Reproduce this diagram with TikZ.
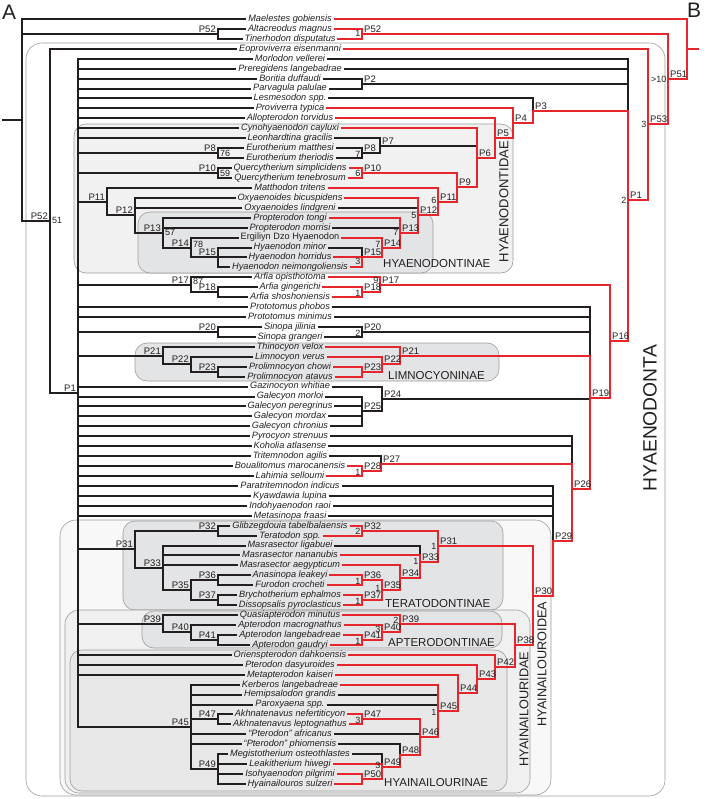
\documentclass[tikz,border=0pt]{standalone}
\usepackage{fontspec}
\setmainfont{Liberation Sans}
\usetikzlibrary{calc}
\definecolor{ink}{HTML}{231F20}
\definecolor{rd}{HTML}{E5262D}
\definecolor{edge}{HTML}{9D9D9D}
\definecolor{fA}{HTML}{F1F1F2}
\definecolor{fB}{HTML}{E3E4E5}
\definecolor{fC}{HTML}{F8F8F8}
\definecolor{fD}{HTML}{F0F0F0}
\definecolor{fE}{HTML}{E8E8E9}
\begin{document}
\begin{tikzpicture}[x=1pt,y=-1pt,
  clade/.style={draw=edge,line width=0.6pt,rounded corners=12pt},
  br/.style={line width=2pt,line cap=rect},
  taxon/.style={font=\fontsize{9.2}{10}\selectfont\itshape,text=ink,inner xsep=3pt,inner ysep=0pt,outer sep=0pt,text height=6.8pt,text depth=2pt},
  plab/.style={font=\fontsize{9.5}{10}\selectfont,text=ink,inner sep=0pt},
  sup/.style={font=\fontsize{9}{10}\selectfont,text=ink,inner sep=0pt},
  cname/.style={font=\fontsize{11.5}{12}\selectfont,text=ink,inner sep=0pt}]
\useasboundingbox (0,0) rectangle (704,799);
% ---------------- clade boxes
\draw[clade,rounded corners=16pt] (26,43) rectangle (665,796);
\filldraw[clade,fill=fA] (74,124) rectangle (513,273);
\filldraw[clade,fill=fB] (138,212) rectangle (433,273);
\filldraw[clade,fill=fB] (135,343) rectangle (499,381);
\filldraw[clade,fill=fC,rounded corners=16pt] (60,520) rectangle (551,795);
\filldraw[clade,fill=fB] (123,521) rectangle (503,610);
\filldraw[clade,fill=fD,rounded corners=14pt] (65,610) rectangle (530,793);
\filldraw[clade,fill=fB] (142,611) rectangle (502,648);
\filldraw[clade,fill=fE] (70,650) rectangle (507,791);
% clade names
\node[cname,anchor=base west] (cn1) at (383,268) {HYAENODONTINAE};
\node[cname,anchor=base west] (cn2) at (388,379) {LIMNOCYONINAE};
\node[cname,anchor=base west] (cn3) at (385,607) {TERATODONTINAE};
\node[cname,anchor=base west] (cn4) at (388,646) {APTERODONTINAE};
\node[cname,anchor=base west] (cn5) at (384,786) {HYAINAILOURINAE};
\node[cname,font=\fontsize{13}{14}\selectfont,rotate=90] (cn6) at (504,201.5) {HYAENODONTIDAE};
\node[cname,font=\fontsize{12.7}{14}\selectfont,rotate=90] (cn7) at (524,709) {HYAINAILOURIDAE};
\node[cname,font=\fontsize{12.7}{14}\selectfont,rotate=90] (cn8) at (542,664) {HYAINAILOUROIDEA};
\node[cname,font=\fontsize{19.3}{20}\selectfont,rotate=90] (cn9) at (650,418) {HYAENODONTA};
\node[cname,font=\fontsize{21}{22}\selectfont,anchor=base west] (lA) at (2,20) {A};
\node[cname,font=\fontsize{21}{22}\selectfont,anchor=base west] (lB) at (687,18) {B};
% ---------------- trees (row coordinates)
\begin{scope}[y=-9.935pt,yshift=-19pt]
\foreach \i/\nm in {0/Maelestes gobiensis,1/Altacreodus magnus,2/Tinerhodon disputatus,
 3/Eoproviverra eisenmanni,4/Morlodon vellerei,5/Preregidens langebadrae,6/Boritia duffaudi,
 7/Parvagula palulae,8/Lesmesodon spp.,9/Proviverra typica,10/Allopterodon torvidus,
 11/Cynohyaenodon cayluxi,12/Leonhardtina gracilis,13/Eurotherium matthesi,14/Eurotherium theriodis,
 15/Quercytherium simplicidens,16/Quercytherium tenebrosum,17/Matthodon tritens,
 18/Oxyaenoides bicuspidens,19/Oxyaenoides lindgreni,20/Propterodon tongi,21/Propterodon morrisi,
 22/{\upshape Ergiliyn Dzo Hyaenodon},23/Hyaenodon minor,24/Hyaenodon horridus,
 25/Hyaenodon neimongoliensis,26/Arfia opisthotoma,27/Arfia gingerichi,28/Arfia shoshoniensis,
 29/Prototomus phobos,30/Prototomus minimus,31/Sinopa jilinia,32/Sinopa grangeri,
 33/Thinocyon velox,34/Limnocyon verus,35/Prolimnocyon chowi,36/Prolimnocyon atavus,
 37/Gazinocyon whitiae,38/Galecyon morloi,39/Galecyon peregrinus,40/Galecyon mordax,
 41/Galecyon chronius,42/Pyrocyon strenuus,43/Koholia atlasense,44/Tritemnodon agilis,
 45/Boualitomus marocanensis,46/Lahimia selloumi,47/Paratritemnodon indicus,48/Kyawdawia lupina,
 49/Indohyaenodon raoi,50/Metasinopa fraasi,51/Glibzegdouia tabelbalaensis,52/Teratodon spp.,
 53/Masrasector ligabuei,54/Masrasector nananubis,55/Masrasector aegypticum,56/Anasinopa leakeyi,
 57/Furodon crocheti,58/Brychotherium ephalmos,59/Dissopsalis pyroclasticus,
 60/Quasiapterodon minutus,61/Apterodon macrognathus,62/Apterodon langebadreae,63/Apterodon gaudryi,
 64/Orienspterodon dahkoensis,65/Pterodon dasyuroides,66/Metapterodon kaiseri,
 67/Kerberos langebadreae,68/Hemipsalodon grandis,69/Paroxyaena spp.,
 70/Akhnatenavus nefertiticyon,71/Akhnatenavus leptognathus,72/“Pterodon” africanus,
 73/“Pterodon” phiomensis,74/Megistotherium osteothlastes,75/Leakitherium hiwegi,
 76/Isohyaenodon pilgrimi,77/Hyainailouros sulzeri}
 \node[taxon] (t\i) at (290,\i) {\nm};
% ---- tree A coordinates
\coordinate (aS) at (3,10.155);
\coordinate (aR) at (22,10.155);
\coordinate (aP52b) at (218,1.5);
\coordinate (aP52) at (50,20.31);
\coordinate (aP1) at (78,37.625);
\coordinate (aP8) at (218,13.5);
\coordinate (aP10) at (218,15.5);
\coordinate (aP11) at (107,18.375);
\coordinate (aP12) at (135,19.75);
\coordinate (aP13) at (163,21.5);
\coordinate (aP14) at (191,23);
\coordinate (aP15) at (218,24);
\coordinate (aP17) at (191,26.75);
\coordinate (aP18) at (218,27.5);
\coordinate (aP20) at (218,31.5);
\coordinate (aP21) at (163,33.875);
\coordinate (aP22) at (191,34.75);
\coordinate (aP23) at (218,35.5);
\coordinate (aP31) at (135,53.375);
\coordinate (aP32) at (218,51.5);
\coordinate (aP33) at (163,55.25);
\coordinate (aP35) at (191,57.5);
\coordinate (aP36) at (218,56.5);
\coordinate (aP37) at (218,58.5);
\coordinate (aP39) at (163,60.875);
\coordinate (aP40) at (191,61.75);
\coordinate (aP41) at (218,62.5);
\coordinate (aP45) at (191,71.25);
\coordinate (aP47) at (218,70.5);
\coordinate (aP49) at (218,75.5);
% ---- tree A lines
\draw[br,ink] (aS) -- (aR);
\foreach \n/\p in {aP52b/aR,aP52/aR,aP1/aP52,aP8/aP1,aP10/aP1,aP11/aP1,aP12/aP11,aP13/aP12,
 aP14/aP13,aP15/aP14,aP17/aP1,aP18/aP17,aP20/aP1,aP21/aP1,aP22/aP21,aP23/aP22,aP31/aP1,
 aP32/aP31,aP33/aP31,aP35/aP33,aP36/aP35,aP37/aP35,aP39/aP1,aP40/aP39,aP41/aP40,aP45/aP1,
 aP47/aP45,aP49/aP45}
 \draw[br,ink] (\n) -- (\n -| \p);
\foreach \n/\a/\b in {aR/t0/aP52,aP52b/t1/t2,aP52/t3/aP1,aP1/t4/aP45,aP8/t13/t14,aP10/t15/t16,
 aP11/t17/aP12,aP12/t18/aP13,aP13/t20/aP14,aP14/t22/aP15,aP15/t23/t25,aP17/t26/aP18,
 aP18/t27/t28,aP20/t31/t32,aP21/t33/aP22,aP22/t34/aP23,aP23/t35/t36,aP31/aP32/aP33,
 aP32/t51/t52,aP33/t53/aP35,aP35/aP36/aP37,aP36/t56/t57,aP37/t58/t59,aP39/t60/aP40,
 aP40/t61/aP41,aP41/t62/t63,aP45/t67/aP49,aP47/t70/t71,aP49/t74/t77}
 \draw[br,ink] (\n |- \a) -- (\n |- \b);
\foreach \i/\p in {0/aR,1/aP52b,2/aP52b,3/aP52,4/aP1,5/aP1,6/aP1,7/aP1,8/aP1,9/aP1,10/aP1,
 11/aP1,12/aP1,13/aP8,14/aP8,15/aP10,16/aP10,17/aP11,18/aP12,19/aP12,20/aP13,21/aP13,22/aP14,
 23/aP15,24/aP15,25/aP15,26/aP17,27/aP18,28/aP18,29/aP1,30/aP1,31/aP20,32/aP20,33/aP21,
 34/aP22,35/aP23,36/aP23,37/aP1,38/aP1,39/aP1,40/aP1,41/aP1,42/aP1,43/aP1,44/aP1,45/aP1,
 46/aP1,47/aP1,48/aP1,49/aP1,50/aP1,51/aP32,52/aP32,53/aP33,54/aP33,55/aP33,56/aP36,57/aP36,
 58/aP37,59/aP37,60/aP39,61/aP40,62/aP41,63/aP41,64/aP1,65/aP1,66/aP1,67/aP45,68/aP45,
 69/aP45,70/aP47,71/aP47,72/aP45,73/aP45,74/aP49,75/aP49,76/aP49,77/aP49}
 \draw[br,ink] (\p |- t\i.west) -- (t\i.west);
% ---- tree A labels
\foreach \n/\l [count=\k] in {aP52b/P52,aP52/P52,aP1/P1,aP8/P8,aP10/P10,aP11/P11,aP12/P12,
 aP13/P13,aP14/P14,aP15/P15,aP17/P17,aP18/P18,aP20/P20,aP21/P21,aP22/P22,aP23/P23,aP31/P31,
 aP32/P32,aP33/P33,aP35/P35,aP36/P36,aP37/P37,aP39/P39,aP40/P40,aP41/P41,aP45/P45,aP47/P47,
 aP49/P49}
 \node[plab,anchor=base east,xshift=-2pt,yshift=1.5pt] (la\k) at (\n) {\l};
\foreach \n/\v/\s [count=\k] in {aP52/51/0,aP8/76/0,aP10/59/0,aP13/57/0,aP14/78/3,aP17/87/3}
 \node[sup,anchor=west,xshift=2pt,yshift=\s pt] (sa\k) at (\n) {\v};
% ---- tree B coordinates
\coordinate (bS) at (698,3.0275);
\coordinate (bR) at (687,3.0275);
\coordinate (bP51) at (668,6.055);
\coordinate (bP52) at (362,1.5);
\coordinate (bP53) at (648,10.61);
\coordinate (bP1) at (628,18.22);
\coordinate (bP2) at (362,6.5);
\coordinate (bP3) at (533,9.245);
\coordinate (bP4) at (513,10.49);
\coordinate (bP5) at (495,11.98);
\coordinate (bP6) at (477,13.97);
\coordinate (bP7) at (380,12.75);
\coordinate (bP8) at (362,13.5);
\coordinate (bP9) at (457,16.94);
\coordinate (bP10) at (362,15.5);
\coordinate (bP11) at (438,18.375);
\coordinate (bP12) at (418,19.75);
\coordinate (bP13) at (400,21.5);
\coordinate (bP14) at (382,23);
\coordinate (bP15) at (362,24);
\coordinate (bP16) at (610,32.44);
\coordinate (bP17) at (380,26.75);
\coordinate (bP18) at (362,27.5);
\coordinate (bP19) at (590,38.13);
\coordinate (bP20) at (362,31.5);
\coordinate (bP21) at (400,33.875);
\coordinate (bP22) at (382,34.75);
\coordinate (bP23) at (362,35.5);
\coordinate (bP24) at (382,38.25);
\coordinate (bP25) at (362,39.5);
\coordinate (bP26) at (572,47.26);
\coordinate (bP27) at (381,44.75);
\coordinate (bP28) at (362,45.5);
\coordinate (bP29) at (553,52.53);
\coordinate (bP30) at (533,58.05);
\coordinate (bP31) at (438,53.06);
\coordinate (bP32) at (362,51.5);
\coordinate (bP33) at (420,54.625);
\coordinate (bP34) at (400,56.25);
\coordinate (bP35) at (382,57.5);
\coordinate (bP36) at (362,56.5);
\coordinate (bP37) at (362,58.5);
\coordinate (bP38) at (515,63.04);
\coordinate (bP39) at (400,60.875);
\coordinate (bP40) at (382,61.75);
\coordinate (bP41) at (362,62.5);
\coordinate (bP42) at (495,65.21);
\coordinate (bP43) at (477,66.41);
\coordinate (bP44) at (458,67.83);
\coordinate (bP45) at (438,69.66);
\coordinate (bP46) at (420,72.31);
\coordinate (bP47) at (362,70.5);
\coordinate (bP48) at (400,74.125);
\coordinate (bP49) at (382,75.25);
\coordinate (bP50) at (362,76.5);
% ---- tree B black parts
\foreach \i/\p in {4/bP1,5/bP1,6/bP2,7/bP2,8/bP3,12/bP7,13/bP8,14/bP8,19/bP12,21/bP13,23/bP15,
 29/bP19,30/bP19,31/bP20,32/bP20,37/bP24,38/bP25,39/bP25,40/bP25,41/bP25,42/bP26,43/bP26,
 44/bP27,47/bP29,48/bP29,49/bP29,50/bP29,53/bP33,68/bP45,69/bP45,72/bP46,73/bP48,74/bP49}
 \draw[br,ink] (t\i.east) -- (t\i.east -| \p);
\foreach \n/\p in {bP2/bP1,bP7/bP6,bP8/bP7,bP20/bP19,bP24/bP19,bP25/bP24}
 \draw[br,ink] (\n) -- (\n -| \p);
\foreach \n/\a/\b in {bP1/t4/bP3,bP2/t6/t7,bP3/t8/bP3,bP7/t12/bP8,bP8/t13/t14,bP15/t23/bP15,
 bP19/t29/bP21,bP20/t31/t32,bP24/t37/bP25,bP25/t38/t41,bP26/t42/bP27,bP27/t44/bP27,
 bP29/t47/bP29,bP33/t53/t54,bP48/t73/bP48,bP49/t74/t75}
 \draw[br,ink] (\n |- \a) -- (\n |- \b);
% ---- tree B red parts
\foreach \i/\p in {0/bR,1/bP52,2/bP52,3/bP53,9/bP4,10/bP5,11/bP6,15/bP10,16/bP10,17/bP11,
 18/bP12,20/bP13,22/bP14,24/bP15,25/bP15,26/bP17,27/bP18,28/bP18,33/bP21,34/bP22,35/bP23,
 36/bP23,45/bP28,46/bP28,51/bP32,52/bP32,54/bP33,55/bP34,56/bP36,57/bP36,58/bP37,59/bP37,
 60/bP39,61/bP40,62/bP41,63/bP41,64/bP42,65/bP43,66/bP44,67/bP45,70/bP47,71/bP47,75/bP49,
 76/bP50,77/bP50}
 \draw[br,rd] (t\i.east) -- (t\i.east -| \p);
\draw[br,rd] (bR) -- (bS);
\foreach \n/\p in {bP51/bR,bP52/bP51,bP53/bP51,bP1/bP53,bP3/bP1,bP4/bP3,bP5/bP4,bP6/bP5,
 bP9/bP6,bP10/bP9,bP11/bP9,bP12/bP11,bP13/bP12,bP14/bP13,bP15/bP14,bP16/bP1,bP17/bP16,
 bP18/bP17,bP19/bP16,bP21/bP19,bP22/bP21,bP23/bP22,bP26/bP19,bP27/bP26,bP28/bP27,bP29/bP26,
 bP30/bP29,bP31/bP30,bP32/bP31,bP33/bP31,bP34/bP33,bP35/bP34,bP36/bP35,bP37/bP35,bP38/bP30,
 bP39/bP38,bP40/bP39,bP41/bP40,bP42/bP38,bP43/bP42,bP44/bP43,bP45/bP44,bP46/bP45,bP47/bP46,
 bP48/bP46,bP49/bP48,bP50/bP49}
 \draw[br,rd] (\n) -- (\n -| \p);
\foreach \n/\a/\b in {bR/t0/bP51,bP51/bP52/bP53,bP52/t1/t2,bP53/t3/bP1,bP1/bP3/bP16,
 bP3/bP3/bP4,bP4/t9/bP5,bP5/t10/bP6,bP6/t11/bP9,bP9/bP10/bP11,bP10/t15/t16,bP11/t17/bP12,
 bP12/t18/bP13,bP13/t20/bP14,bP14/t22/bP15,bP15/bP15/t25,bP16/bP17/bP19,bP17/t26/bP18,
 bP18/t27/t28,bP19/bP21/bP26,bP21/t33/bP22,bP22/t34/bP23,bP23/t35/t36,bP26/bP27/bP29,
 bP27/bP27/bP28,bP28/t45/t46,bP29/bP29/bP30,bP30/bP31/bP38,bP31/bP32/bP33,bP32/t51/t52,
 bP33/t54/bP34,bP34/t55/bP35,bP35/bP36/bP37,bP36/t56/t57,bP37/t58/t59,bP38/bP39/bP42,
 bP39/t60/bP40,bP40/t61/bP41,bP41/t62/t63,bP42/t64/bP43,bP43/t65/bP44,bP44/t66/bP45,
 bP45/t67/bP46,bP46/bP47/bP48,bP47/t70/t71,bP48/bP48/bP49,bP49/t75/bP50,bP50/t76/t77}
 \draw[br,rd] (\n |- \a) -- (\n |- \b);
% ---- tree B labels
\foreach \k in {1,...,53}
 \node[plab,anchor=base west,xshift=2pt,yshift=1.5pt] (lb\k) at (bP\k) {P\k};
\foreach \n/\v/\s [count=\k] in {bP52/1/0,bP51/{>10}/0,bP53/3/0,bP1/2/0,bP8/7/-1,bP10/6/0,
 bP11/6/1,bP12/5/0,bP13/7/0,bP14/7/3,bP15/3/-4,bP17/9/4.5,bP18/1/-1,bP20/2/-1,bP28/1/-1,
 bP32/2/-1,bP31/1/0,bP33/1/0,bP35/1/2,bP36/1/-1,bP37/1/-1,bP39/2/3.5,bP40/3/3,bP41/1/-1.5,
 bP45/1/-1,bP47/3/-1,bP49/3/1.5}
 \node[sup,anchor=east,xshift=-1.5pt,yshift=\s pt] (sb\k) at (\n) {\v};
\end{scope}
\end{tikzpicture}
\end{document}
